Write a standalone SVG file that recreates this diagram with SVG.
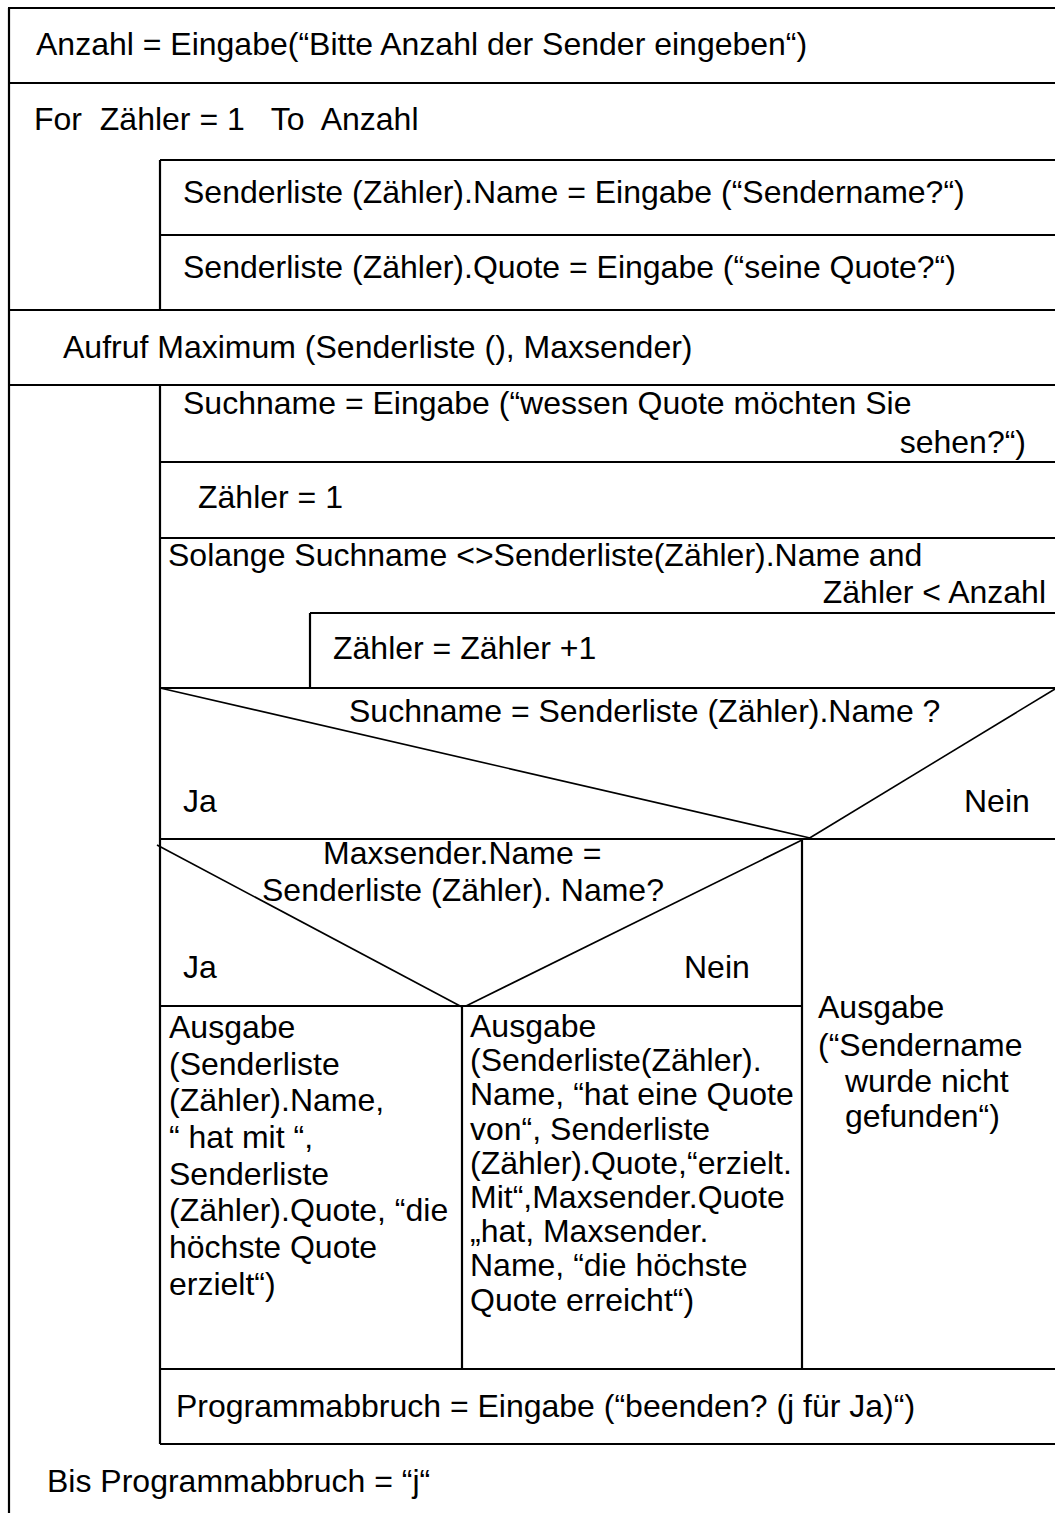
<svg xmlns="http://www.w3.org/2000/svg" width="1055" height="1513" viewBox="0 0 1055 1513">
<style>
text{font-family:"Liberation Sans",Arial,sans-serif;font-size:32px;fill:#000}
.l{stroke:#000;stroke-width:2.2;fill:none}
.d{stroke:#000;stroke-width:1.6;fill:none}
.e{text-anchor:end}
</style>
<rect width="1055" height="1513" fill="#fff"/>
<g id="connectors">
<line class="l" x1="9" y1="8" x2="9" y2="1513"/>
<line class="l" x1="8" y1="8" x2="1055" y2="8"/>
<line class="l" x1="9" y1="83" x2="1055" y2="83"/>
<line class="l" x1="160" y1="160" x2="1055" y2="160"/>
<line class="l" x1="160" y1="235" x2="1055" y2="235"/>
<line class="l" x1="160" y1="160" x2="160" y2="310"/>
<line class="l" x1="9" y1="310" x2="1055" y2="310"/>
<line class="l" x1="9" y1="385" x2="1055" y2="385"/>
<line class="l" x1="160" y1="385" x2="160" y2="1444"/>
<line class="l" x1="160" y1="462" x2="1055" y2="462"/>
<line class="l" x1="160" y1="538" x2="1055" y2="538"/>
<line class="l" x1="310" y1="613" x2="1055" y2="613"/>
<line class="l" x1="310" y1="613" x2="310" y2="688"/>
<line class="l" x1="160" y1="688" x2="1055" y2="688"/>
<line class="d" x1="160" y1="688" x2="810" y2="838"/>
<line class="d" x1="808" y1="839" x2="1055" y2="689"/>
<line class="l" x1="160" y1="839" x2="1055" y2="839"/>
<line class="d" x1="157" y1="845" x2="462" y2="1007"/>
<line class="d" x1="466" y1="1006" x2="802" y2="840"/>
<line class="l" x1="802" y1="839" x2="802" y2="1369"/>
<line class="l" x1="160" y1="1006" x2="802" y2="1006"/>
<line class="l" x1="462" y1="1006" x2="462" y2="1369"/>
<line class="l" x1="160" y1="1369" x2="1055" y2="1369"/>
<line class="l" x1="160" y1="1444" x2="1055" y2="1444"/>
</g>
<g id="n-anzahl"><text x="36" y="55">Anzahl = Eingabe(“Bitte Anzahl der Sender eingeben“)</text></g>
<g id="n-for"><text x="34" y="130" xml:space="preserve">For  Zähler = 1   To  Anzahl</text></g>
<g id="n-name"><text x="183" y="203">Senderliste (Zähler).Name = Eingabe (“Sendername?“)</text></g>
<g id="n-quote"><text x="183" y="278">Senderliste (Zähler).Quote = Eingabe (“seine Quote?“)</text></g>
<g id="n-aufruf"><text x="63" y="358">Aufruf Maximum (Senderliste (), Maxsender)</text></g>
<g id="n-suchname"><text x="183" y="414">Suchname = Eingabe (“wessen Quote möchten Sie</text><text class="e" x="1026" y="453">sehen?“)</text></g>
<g id="n-zaehler1"><text x="198" y="508">Zähler = 1</text></g>
<g id="n-solange"><text x="168" y="566">Solange Suchname &lt;&gt;Senderliste(Zähler).Name and</text><text class="e" x="1046" y="603">Zähler &lt; Anzahl</text></g>
<g id="n-inc"><text x="333" y="659">Zähler = Zähler +1</text></g>
<g id="n-if1"><text x="349" y="722">Suchname = Senderliste (Zähler).Name ?</text><text x="183" y="812">Ja</text><text x="964" y="812">Nein</text></g>
<g id="n-if2"><text x="323" y="864">Maxsender.Name =</text><text x="262" y="901">Senderliste (Zähler). Name?</text><text x="183" y="978">Ja</text><text x="684" y="978">Nein</text></g>
<g id="n-out-ja">
<text x="169" y="1038">Ausgabe</text>
<text x="169" y="1075">(Senderliste</text>
<text x="169" y="1111">(Zähler).Name,</text>
<text x="169" y="1148" xml:space="preserve">“ hat mit “,</text>
<text x="169" y="1185">Senderliste</text>
<text x="169" y="1221">(Zähler).Quote, “die</text>
<text x="169" y="1258">höchste Quote</text>
<text x="169" y="1295">erzielt“)</text>
</g>
<g id="n-out-nein">
<text x="470" y="1037">Ausgabe</text>
<text x="470" y="1071">(Senderliste(Zähler).</text>
<text x="470" y="1105">Name, “hat eine Quote</text>
<text x="470" y="1140">von“, Senderliste</text>
<text x="470" y="1174">(Zähler).Quote,“erzielt.</text>
<text x="470" y="1208">Mit“,Maxsender.Quote</text>
<text x="470" y="1242">„hat, Maxsender.</text>
<text x="470" y="1276">Name, “die höchste</text>
<text x="470" y="1311">Quote erreicht“)</text>
</g>
<g id="n-out-notfound">
<text x="818" y="1018">Ausgabe</text>
<text x="818" y="1056">(“Sendername</text>
<text x="845" y="1092">wurde nicht</text>
<text x="845" y="1127">gefunden“)</text>
</g>
<g id="n-abbruch"><text x="176" y="1417">Programmabbruch = Eingabe (“beenden? (j für Ja)“)</text></g>
<g id="n-bis"><text x="47" y="1492">Bis Programmabbruch = “j“</text></g>
</svg>
